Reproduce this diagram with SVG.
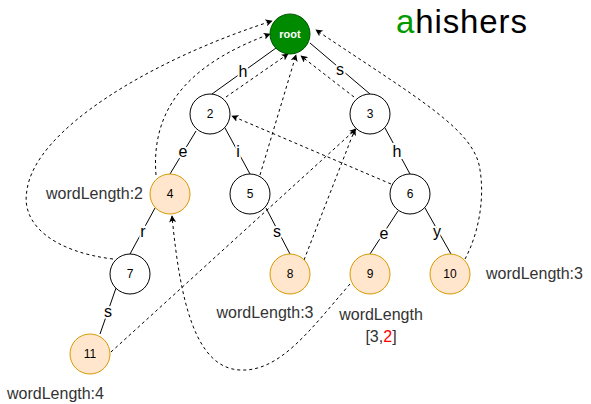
<svg xmlns="http://www.w3.org/2000/svg" width="591" height="404" viewBox="0 0 591 404">
<defs>
<marker id="arr" viewBox="0 0 10 10" refX="9" refY="5" markerWidth="7" markerHeight="7" markerUnits="userSpaceOnUse" orient="auto">
<path d="M0,0 L10,5 L0,10 L2.5,5 Z" fill="#000"/>
</marker>
<style>
.n{fill:#fff;stroke:#000;stroke-width:1}
.o{fill:#ffe6cc;stroke:#d79b00;stroke-width:1}
.num{font-family:"Liberation Sans",Arial,sans-serif;font-size:12px;fill:#000;text-anchor:middle;dominant-baseline:central}
.e{stroke:#000;stroke-width:1;fill:none}
.d{stroke:#000;stroke-width:1;fill:none;stroke-dasharray:3 3;marker-end:url(#arr)}
.el{font-family:"Liberation Sans",Arial,sans-serif;font-size:16px;fill:#000;text-anchor:middle;dominant-baseline:central;stroke:#fff;stroke-width:4;paint-order:stroke}
.lab{font-family:"Liberation Sans",Arial,sans-serif;font-size:16px;fill:#333}
</style>
</defs>
<rect width="591" height="404" fill="#fff"/>
<g id="connectors">
<line class="e" x1="276" y1="48" x2="212" y2="94"/>
<line class="e" x1="310" y1="43" x2="370" y2="94"/>
<line class="e" x1="196" y1="131" x2="170" y2="174"/>
<line class="e" x1="225" y1="128" x2="250" y2="174"/>
<line class="e" x1="385" y1="128" x2="410" y2="174"/>
<line class="e" x1="155" y1="208" x2="130" y2="254"/>
<line class="e" x1="266" y1="208" x2="290" y2="254"/>
<line class="e" x1="398" y1="211" x2="370" y2="254"/>
<line class="e" x1="425" y1="208" x2="451" y2="254"/>
<line class="e" x1="116" y1="288" x2="100" y2="334"/>
<text class="el" x="243" y="71">h</text>
<text class="el" x="340" y="69">s</text>
<text class="el" x="183" y="151">e</text>
<text class="el" x="238" y="151">i</text>
<text class="el" x="397" y="151">h</text>
<text class="el" x="143" y="231">r</text>
<text class="el" x="277" y="231">s</text>
<text class="el" x="384" y="233">e</text>
<text class="el" x="437" y="231">y</text>
<text class="el" x="108" y="311">s</text>
<path class="d" d="M226,97 L288,54"/>
<path class="d" d="M354,97 L301,56"/>
<path class="d" d="M260,175 L296,55"/>
<path class="d" d="M156,175 C150,100 200,60 270,34"/>
<path class="d" d="M113,259 C55,252 20,225 27,190 C35,130 150,60 272,21"/>
<path class="d" d="M391,184 L232,116"/>
<path class="d" d="M304,260 L355,129"/>
<path class="d" d="M111,352 L356,129"/>
<path class="d" d="M350,284 C310,330 280,372 240,370 C195,368 180,300 172,216"/>
<path class="d" d="M465,259 C478,235 485,200 480,170 C475,130 420,100 316,30"/>
</g>
<g id="root"><circle cx="290" cy="34" r="20" fill="#008a00" stroke="#005700"/><text x="290" y="34" font-family="'Liberation Sans',Arial,sans-serif" font-size="11" font-weight="bold" fill="#fff" text-anchor="middle" dominant-baseline="central">root</text></g>
<g id="n2"><circle class="n" cx="210" cy="114" r="20"/><text class="num" x="210" y="114">2</text></g>
<g id="n3"><circle class="n" cx="370" cy="114" r="20"/><text class="num" x="370" y="114">3</text></g>
<g id="n4"><circle class="o" cx="170" cy="194" r="20"/><text class="num" x="170" y="194">4</text></g>
<g id="n5"><circle class="n" cx="250" cy="194" r="20"/><text class="num" x="250" y="194">5</text></g>
<g id="n6"><circle class="n" cx="410" cy="194" r="20"/><text class="num" x="410" y="194">6</text></g>
<g id="n7"><circle class="n" cx="130" cy="274" r="20"/><text class="num" x="130" y="274">7</text></g>
<g id="n8"><circle class="o" cx="290" cy="274" r="20"/><text class="num" x="290" y="274">8</text></g>
<g id="n9"><circle class="o" cx="370" cy="274" r="20"/><text class="num" x="370" y="274">9</text></g>
<g id="n10"><circle class="o" cx="450" cy="274" r="20"/><text class="num" x="450" y="274">10</text></g>
<g id="n11"><circle class="o" cx="90" cy="354" r="20"/><text class="num" x="90" y="354">11</text></g>
<g id="labels">
<text class="lab" x="143" y="199" text-anchor="end">wordLength:2</text>
<text class="lab" x="486" y="279">wordLength:3</text>
<text class="lab" x="265" y="318" text-anchor="middle">wordLength:3</text>
<text class="lab" x="381" y="320" text-anchor="middle">wordLength</text>
<text class="lab" x="381" y="342" text-anchor="middle">[3,<tspan fill="#ff0000">2</tspan>]</text>
<text class="lab" x="7" y="399">wordLength:4</text>
<text x="396" y="33" font-family="'Liberation Sans',Arial,sans-serif" font-size="33" fill="#000" textLength="131" lengthAdjust="spacing"><tspan fill="#009900">a</tspan>hishers</text>
</g>
</svg>
